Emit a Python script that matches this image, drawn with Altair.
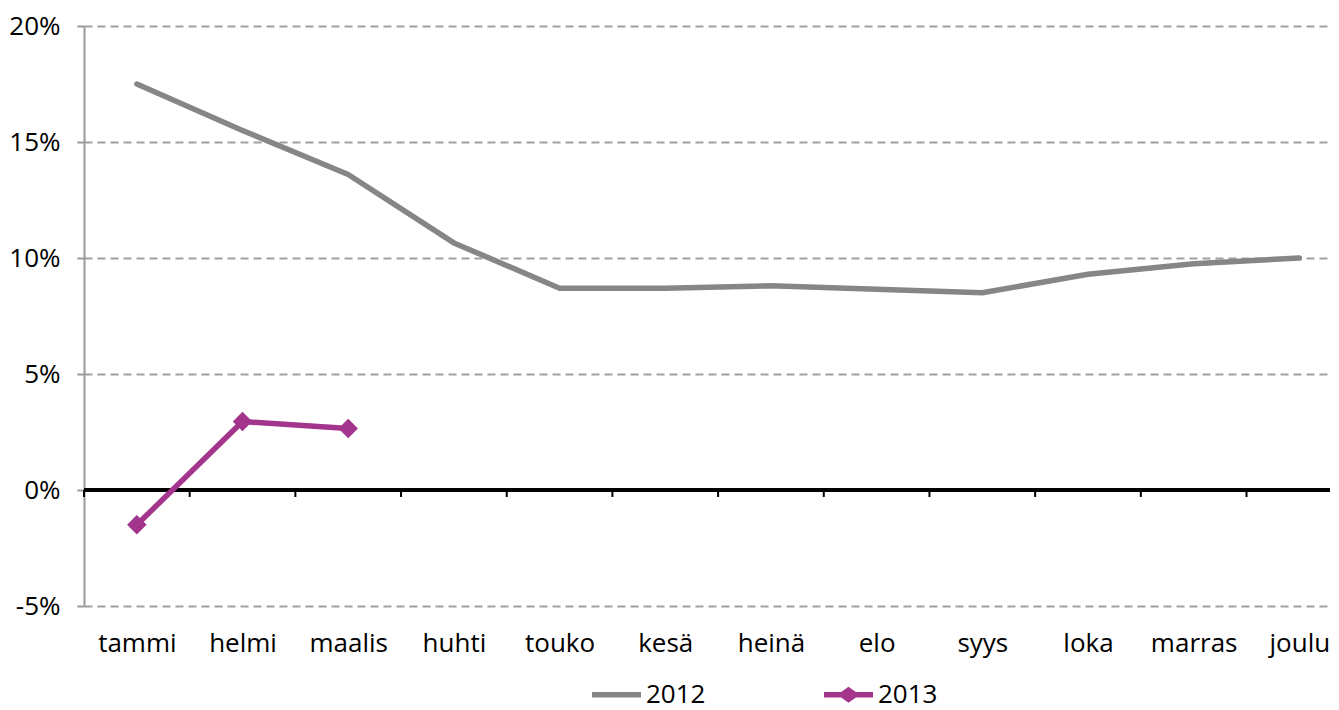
import altair as alt
import pandas as pd

months = ["tammi", "helmi", "maalis", "huhti", "touko", "kesä", "heinä", "elo", "syys", "loka", "marras", "joulu"]
series = ["2012", "2013"]
v2012 = [17.5, 15.5, 13.6, 10.65, 8.7, 8.7, 8.8, 8.65, 8.5, 9.3, 9.75, 10.0]
v2013 = [-1.5, 2.95, 2.65]
y_ticks = [-5, 0, 5, 10, 15, 20]

colors = ["#868686", "#A3358C"]
FONT_NUM = "Open Sans"
FONT_TXT = "Open Sans"

rows = []
for i, v in enumerate(v2012):
    rows.append({"i": i, "kk": months[i], "sarja": "2012", "arvo": v})
for i, v in enumerate(v2013):
    rows.append({"i": i, "kk": months[i], "sarja": "2013", "arvo": v})
df = pd.DataFrame(rows)

bounds = pd.DataFrame({"b": [k - 0.5 for k in range(len(months))]})

W, H = 1246, 580
xscale = alt.Scale(domain=[-0.5, 11.29], nice=False, zero=False)
yscale = alt.Scale(domain=[-5, 20], nice=False)

label_expr = "[" + ",".join("'%s'" % m for m in months) + "][datum.value]"

x_axis = alt.Axis(values=list(range(len(months))), labelExpr=label_expr, title="",
                  domain=False, ticks=False, grid=False, labelFont=FONT_TXT,
                  labelFontSize=26, labelColor="#000000", labelPadding=24, labelFlush=False)
y_axis = alt.Axis(values=y_ticks, labelExpr="datum.value + '%'", title="",
                  domain=True, domainColor="#999999", domainWidth=2,
                  ticks=True, tickColor="#999999", tickWidth=2, tickSize=7,
                  grid=True, gridColor="#A0A0A0", gridWidth=2, gridDash=[8, 5],
                  labelFont=FONT_NUM, labelFontSize=26, labelColor="#000000", labelPadding=17)

X = alt.X("i:Q", scale=xscale, axis=x_axis)
Y = alt.Y("arvo:Q", scale=yscale, axis=y_axis)

base = alt.Chart(df)

line12 = base.transform_filter(alt.datum.sarja == "2012").mark_line(
    strokeWidth=5.5, strokeCap="round", strokeJoin="round", color=colors[0]
).encode(x=X, y=Y)

zero = alt.Chart(bounds).mark_rule(color="#000000", strokeWidth=3).encode(
    y=alt.datum(0), x=alt.value(0), x2=alt.value(W)
)
tks = alt.Chart(bounds).mark_rule(color="#000000", strokeWidth=2).encode(
    x=alt.X("b:Q", scale=xscale, axis=x_axis),
    y=alt.datum(0), y2=alt.datum(-0.3),
)

line13 = base.transform_filter(alt.datum.sarja == "2013").mark_line(
    strokeWidth=5.5, strokeJoin="round", color=colors[1]
).encode(x=X, y=Y)
pts13 = base.transform_filter(alt.datum.sarja == "2013").mark_point(
    shape="diamond", filled=True, size=380, opacity=1, color=colors[1]
).encode(x=X, y=Y)

p12 = "M-1,-0.11L1,-0.11L1,0.11L-1,0.11Z"
p13 = "M-1,-0.11L-0.3,-0.11L0,-0.33L0.3,-0.11L1,-0.11L1,0.11L0.3,0.11L0,0.33L-0.3,0.11L-1,0.11Z"

legend = alt.Legend(title=None, orient="none", legendX=508, legendY=644, direction="horizontal",
                    symbolSize=2400, symbolStrokeWidth=0, symbolOpacity=1, labelFont=FONT_NUM,
                    labelFontSize=26, labelColor="#000000", labelOffset=5, columnPadding=118,
                    padding=0)
leg = base.mark_point(filled=True, opacity=0, size=1).encode(
    x=X, y=Y,
    color=alt.Color("sarja:N", scale=alt.Scale(domain=series, range=colors), legend=legend),
    shape=alt.Shape("sarja:N", scale=alt.Scale(domain=series, range=[p12, p13]), legend=legend),
)

chart = alt.layer(line12, zero, tks, line13, pts13, leg).properties(
    width=W, height=H,
    background="#ffffff",
    autosize=alt.AutoSizeParams(type="none"),
    padding={"left": 76, "top": 18, "right": 0, "bottom": 104},
).configure_view(strokeOpacity=0, strokeWidth=0)

chart.save("out.html", embed_options={"renderer": "svg", "actions": False})
